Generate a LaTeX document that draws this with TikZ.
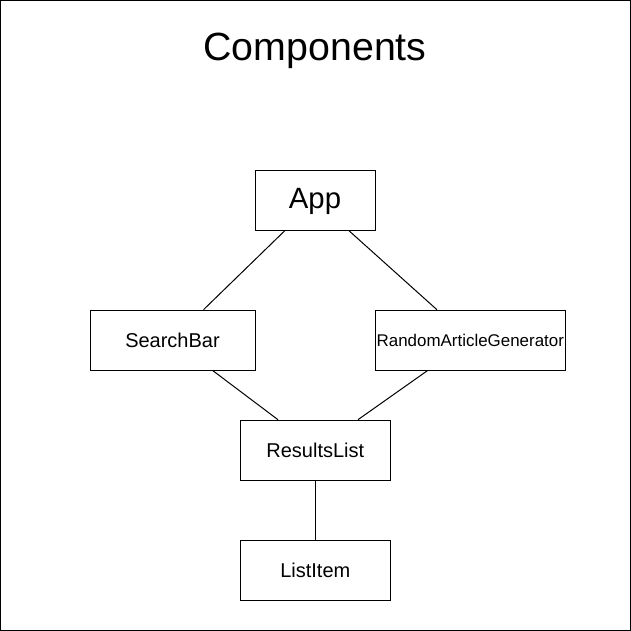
\documentclass[tikz,border=0pt]{standalone}
\usepackage{fontspec}
\setmainfont{Liberation Sans}
\begin{document}
\begin{tikzpicture}
    [x=0.75pt,y=-0.75pt,line cap=round,
    % Styles
    component/.style={draw,line width=0.75pt,minimum height=45pt,inner sep=0pt,font=\fontsize{15}{18}\selectfont},
    title text/.style={font=\fontsize{29.5}{35}\selectfont,anchor=base},
    link/.style={line width=0.75pt}]
    % Frame
    \useasboundingbox (0,0) rectangle (631,631);
    \draw[line width=1pt] (0.5,0.5) rectangle (630.3,630.3);
    \node[title text] (title) at (315,61) {Components};
    % The components
    \node[component,minimum width=90pt,font=\fontsize{22}{26}\selectfont,text depth=3pt] (app) at (315,200) {App};
    \node[component,minimum width=123.75pt] (search bar) at (172.5,340) {SearchBar};
    \node[component,minimum width=142.5pt,font=\fontsize{12.7}{15}\selectfont] (random) at (470.3,340) {RandomArticleGenerator};
    \node[component,minimum width=112.5pt] (results) at (315.3,450) {ResultsList};
    \node[component,minimum width=112.5pt] (list item) at (315.3,570) {ListItem};
    % Links
    \draw[link] ([xshift=-22.5pt]app.south) -- ([xshift=23.4pt]search bar.north);
    \draw[link] ([xshift=25.3pt]app.south) -- ([xshift=-25.2pt]random.north);
    \draw[link] ([xshift=30.1pt]search bar.south) -- ([xshift=-28.2pt]results.north);
    \draw[link] ([xshift=-32pt]random.south) -- ([xshift=32.2pt]results.north);
    \draw[link] (results.south) -- (list item.north);
\end{tikzpicture}
\end{document}
